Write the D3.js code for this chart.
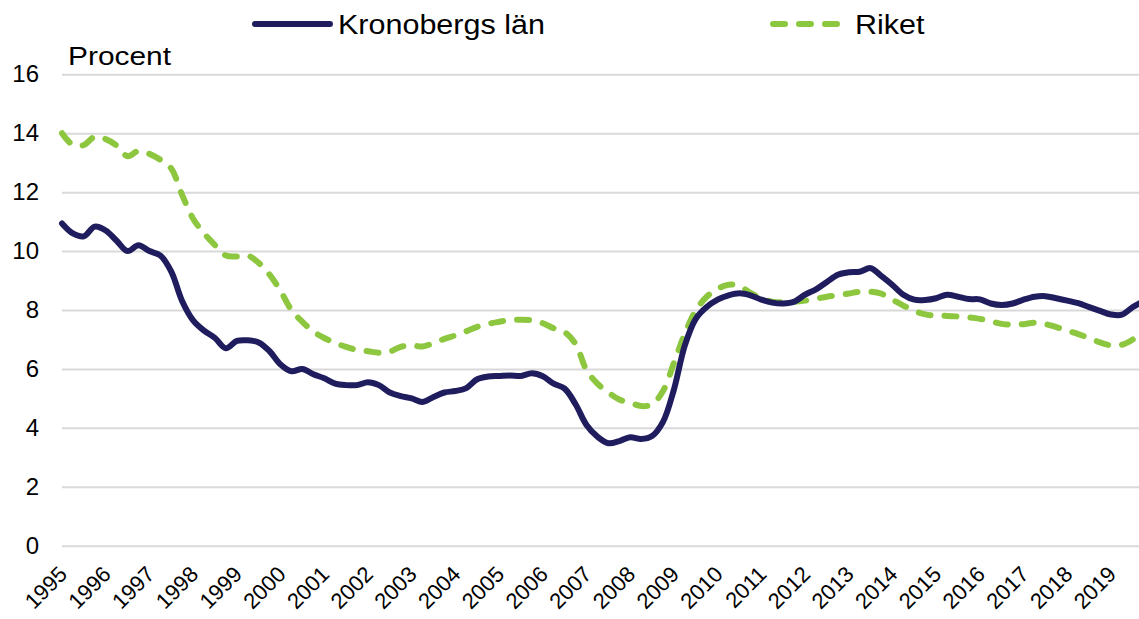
<!DOCTYPE html>
<html>
<head>
<meta charset="utf-8">
<script src="https://cdn.jsdelivr.net/npm/d3@7"></script>
<style>
  body { margin: 0; background: #fff; }
  svg { display: block; font-family: "Liberation Sans", Arial, sans-serif; }
</style>
</head>
<body>
<svg id="chart"></svg>
<script>
// quarterly observations, 1995 Q1 .. 2019 Q4
const startYear = 1995;
const kronoberg = [
  10.94, 10.6, 10.5, 10.83, 10.7, 10.35, 10.0, 10.2, 10.0, 9.85, 9.3, 8.3,
  7.65, 7.3, 7.05, 6.7, 6.95, 6.97, 6.9, 6.6, 6.15, 5.92, 6.0, 5.82,
  5.68, 5.5, 5.45, 5.45, 5.55, 5.45, 5.2, 5.08, 5.0, 4.88, 5.05, 5.2,
  5.25, 5.35, 5.65, 5.74, 5.76, 5.78, 5.76, 5.85, 5.75, 5.5, 5.33, 4.8,
  4.1, 3.7, 3.48, 3.55, 3.68, 3.62, 3.72, 4.2, 5.3, 6.8, 7.7, 8.1,
  8.35, 8.5, 8.57, 8.5, 8.35, 8.25, 8.22, 8.28, 8.52, 8.7, 8.95, 9.2,
  9.28, 9.3, 9.42, 9.15, 8.85, 8.52, 8.35, 8.34, 8.4, 8.52, 8.45, 8.37,
  8.36, 8.22, 8.17, 8.22, 8.35, 8.45, 8.47, 8.4, 8.32, 8.23, 8.1, 7.97,
  7.85, 7.84, 8.1, 8.3
];
const riket = [
  14.0, 13.6, 13.6, 13.88, 13.8, 13.58, 13.22, 13.4, 13.3, 13.1, 12.8, 11.9,
  11.1, 10.6, 10.2, 9.85, 9.82, 9.85, 9.6, 9.2, 8.65, 8.0, 7.6, 7.27,
  7.05, 6.88, 6.75, 6.64, 6.6, 6.55, 6.59, 6.75, 6.8, 6.76, 6.88, 7.02,
  7.14, 7.28, 7.43, 7.53, 7.6, 7.66, 7.67, 7.65, 7.55, 7.38, 7.25, 6.85,
  5.96, 5.5, 5.2, 4.96, 4.85, 4.74, 4.8, 5.25, 6.2, 7.2, 7.98, 8.45,
  8.72, 8.86, 8.82, 8.58, 8.4, 8.28, 8.26, 8.28, 8.32, 8.38, 8.45, 8.5,
  8.56, 8.62, 8.62, 8.55, 8.35, 8.15, 7.97, 7.85, 7.81, 7.8, 7.78, 7.75,
  7.7, 7.62, 7.53, 7.5, 7.52, 7.57, 7.52, 7.42, 7.3, 7.18, 7.05, 6.9,
  6.8, 6.82, 7.0, 7.3
];
const yearLabels = d3.range(1995, 2020);
const yTicks = [0, 2, 4, 6, 8, 10, 12, 14, 16];
const seriesNames = ["Kronobergs län", "Riket"];

const W = 1139, H = 619;
const margin = {top: 74, right: 0, bottom: 73, left: 62};

const svg = d3.select("#chart").attr("width", W).attr("height", H);

const x = d3.scaleLinear().domain([1995, 2019]).range([margin.left, 1111]);
const y = d3.scaleLinear().domain([0, 16]).range([545.7, 74.3]);

// y axis + gridlines
const yAxis = svg.append("g")
  .attr("transform", `translate(${margin.left},0)`)
  .call(d3.axisLeft(y).tickValues(yTicks).tickSize(-(W - margin.left)).tickPadding(23));
yAxis.select(".domain").remove();
yAxis.selectAll("line").attr("stroke", "#d9d9d9").attr("stroke-width", 2);
yAxis.selectAll("text").attr("font-size", 24).attr("fill", "#000");

// x axis labels, rotated
const xAxis = svg.append("g")
  .attr("transform", "translate(0,545.7)")
  .call(d3.axisBottom(x).tickValues(yearLabels).tickFormat(d3.format("d")).tickSize(0));
xAxis.select(".domain").remove();
xAxis.selectAll("text")
  .attr("font-size", 22)
  .attr("fill", "#000")
  .attr("text-anchor", "end")
  .attr("x", 0).attr("y", 0).attr("dy", 0)
  .attr("transform", "translate(6,30) rotate(-45)");

svg.append("text")
  .attr("transform", "translate(68,65) scale(1.15,1)")
  .attr("font-size", 26)
  .text("Procent");

const line = d3.line()
  .x((d, i) => x(startYear + i / 4))
  .y(d => y(d))
  .curve(d3.curveCatmullRom.alpha(0.5));

svg.append("path")
  .datum(riket)
  .attr("fill", "none")
  .attr("stroke", "#8dc63f")
  .attr("stroke-width", 6)
  .attr("stroke-linecap", "round")
  .attr("stroke-dasharray", "12,14")
  .attr("d", line);

svg.append("path")
  .datum(kronoberg)
  .attr("fill", "none")
  .attr("stroke", "#201d5e")
  .attr("stroke-width", 6)
  .attr("stroke-linejoin", "round")
  .attr("stroke-linecap", "round")
  .attr("d", line);

// legend
const legend = [
  {name: seriesNames[0], x1: 255, x2: 330, tx: 338, color: "#201d5e", dash: null},
  {name: seriesNames[1], x1: 773, x2: 845, tx: 855, color: "#8dc63f", dash: "12,14"}
];
const lg = svg.append("g").selectAll("g").data(legend).join("g");
lg.append("line")
  .attr("x1", d => d.x1).attr("x2", d => d.x2)
  .attr("y1", 24).attr("y2", 24)
  .attr("stroke", d => d.color)
  .attr("stroke-width", 6)
  .attr("stroke-linecap", "round")
  .attr("stroke-dasharray", d => d.dash);
lg.append("text")
  .attr("transform", d => `translate(${d.tx},34) scale(1.09,1)`)
  .attr("font-size", 28)
  .text(d => d.name);
</script>
</body>
</html>
